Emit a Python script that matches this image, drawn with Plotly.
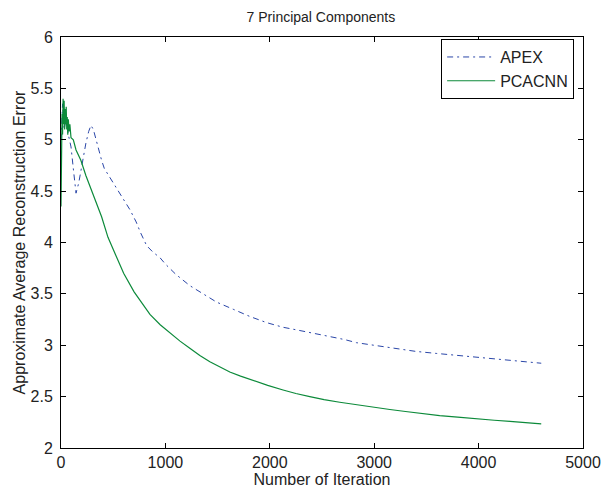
import plotly.graph_objects as go

# APEX series (iteration, error)
apex_iter = [0, 15, 30, 48, 70, 96, 120, 144, 170, 191, 215, 239, 265, 287, 310, 335, 360, 389, 415, 460, 505,
             580, 660, 720, 760, 820, 877, 950, 1000, 1100, 1234, 1360, 1490, 1650, 1809, 1970, 2127, 2255,
             2500, 2718, 2830, 3000, 3180, 3400, 3600, 3800, 3946, 4150, 4300, 4450, 4600]
apex_err = [5.00, 5.35, 5.10, 5.20, 5.05, 4.93, 4.70, 4.48, 4.58, 4.71, 4.85, 4.97, 5.08, 5.14, 5.10, 5.00, 4.90,
            4.80, 4.72, 4.65, 4.58, 4.45, 4.32, 4.20, 4.10, 3.97, 3.91, 3.85, 3.79, 3.69, 3.58, 3.50, 3.42,
            3.35, 3.28, 3.22, 3.175, 3.15, 3.10, 3.055, 3.025, 3.00, 2.97, 2.94, 2.92, 2.90, 2.885, 2.87, 2.855,
            2.84, 2.825]

# PCACNN series (iteration, error)
pca_iter = [0, 5, 10, 15, 20, 25, 30, 35, 40, 45, 50, 55, 60, 65, 70, 78, 85, 96, 118, 144, 190, 239, 293,
            351, 389, 450, 533, 600, 700, 852, 950, 1043, 1140, 1234, 1330, 1426, 1520, 1617, 1720, 1840,
            1980, 2127, 2250, 2383, 2520, 2670, 2861, 3000, 3150, 3300, 3460, 3627, 3800, 4000, 4150, 4300,
            4450, 4600]
pca_err = [4.35, 4.90, 5.25, 5.05, 5.40, 5.15, 5.38, 5.10, 5.30, 5.15, 5.32, 5.10, 5.22, 5.05, 5.20, 5.08,
           5.15, 5.02, 5.00, 4.90, 4.80, 4.65, 4.51, 4.36, 4.25, 4.05, 3.85, 3.70, 3.52, 3.30, 3.20, 3.12,
           3.04, 2.97, 2.90, 2.84, 2.79, 2.74, 2.70, 2.655, 2.61, 2.565, 2.53, 2.50, 2.47, 2.445, 2.415,
           2.395, 2.375, 2.355, 2.335, 2.315, 2.30, 2.28, 2.27, 2.26, 2.25, 2.235]

x_ticks = [0, 1000, 2000, 3000, 4000, 5000]
y_ticks = [2, 2.5, 3, 3.5, 4, 4.5, 5, 5.5, 6]
y_tick_text = ["2", "2.5", "3", "3.5", "4", "4.5", "5", "5.5", "6"]

fig = go.Figure()
fig.add_trace(go.Scatter(x=apex_iter, y=apex_err, mode="lines", name="APEX",
                         line=dict(color="#2a46a8", width=1, dash="6px,4px,2px,4px")))
fig.add_trace(go.Scatter(x=pca_iter, y=pca_err, mode="lines", name="PCACNN",
                         line=dict(color="#0c8a3a", width=1.2)))

font_family = "Liberation Sans, Arial, sans-serif"
axis_common = dict(showline=True, linecolor="black", linewidth=1, mirror="ticks",
                   ticks="inside", ticklen=5, tickcolor="black", showgrid=False, zeroline=False,
                   automargin=False, tickfont=dict(size=16, color="#222"))

fig.update_layout(
    width=610, height=488,
    margin=dict(l=53, r=35, t=29, b=48),
    paper_bgcolor="white", plot_bgcolor="white",
    font=dict(family=font_family, color="#222"),
    title=dict(text="7 Principal Components", x=0.513, xanchor="center", y=0.9816, yanchor="middle",
               font=dict(size=14, color="#222")),
    xaxis=dict(range=[0, 5000], tickvals=x_ticks, ticklabelstandoff=0,
               title=dict(text="Number of Iteration", font=dict(size=16), standoff=0), **axis_common),
    yaxis=dict(range=[2, 6], tickvals=y_ticks, ticktext=y_tick_text, ticklabelstandoff=4,
               title=dict(text="Approximate Average Reconstruction Error", font=dict(size=16), standoff=0),
               **axis_common),
    legend=dict(x=0.983, y=0.995, xanchor="right", yanchor="top", bordercolor="black", borderwidth=1,
                bgcolor="white", font=dict(size=16), tracegroupgap=0, itemwidth=48),
    showlegend=True,
)

fig.write_html("out.html")
